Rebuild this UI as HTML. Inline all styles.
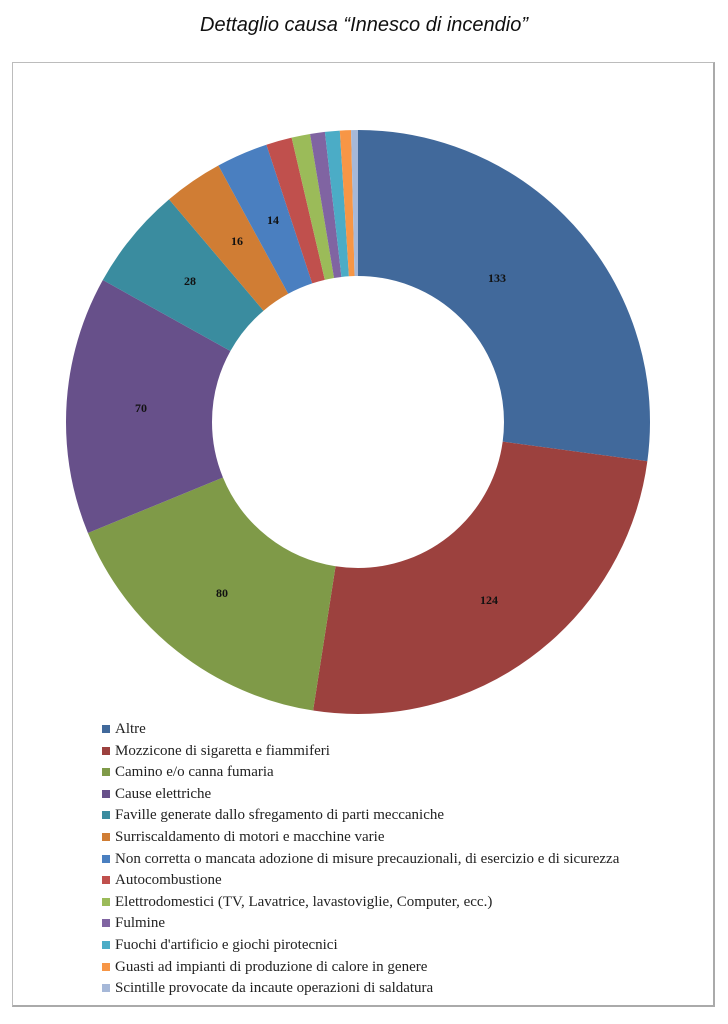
<!DOCTYPE html>
<html><head><meta charset="utf-8"><style>
body{margin:0;background:#fff;width:728px;height:1024px;position:relative;overflow:hidden;font-family:"Liberation Serif",serif}
.t{position:absolute;top:14px;left:0;width:728px;text-align:center;font-family:"Liberation Sans",sans-serif;font-style:italic;font-size:20px;color:#111}
.frame{position:absolute;left:12px;top:62px;width:700px;height:942px;border:1px solid #bcbcbc;border-bottom:2px solid #aaa;border-right:2px solid #aaa}
.lg{position:absolute;left:102px;top:720px;font-size:15px;color:#222}
.lg div{height:21.6px;line-height:18px;white-space:nowrap}
.lg span{display:inline-block;width:8px;height:8px;margin-right:5px;vertical-align:0px}
</style></head><body>
<div class="t">Dettaglio causa “Innesco di incendio”</div>
<div class="frame"></div>
<svg width="728" height="1024" style="position:absolute;left:0;top:0">
<g transform="rotate(-90 358 422)" fill="none" stroke-width="146">
<circle cx="358" cy="422" r="219" stroke="#41699b" stroke-dasharray="373.49 2000" stroke-dashoffset="0"/>
<circle cx="358" cy="422" r="219" stroke="#9c413e" stroke-dasharray="348.22 2000" stroke-dashoffset="-373.49"/>
<circle cx="358" cy="422" r="219" stroke="#7f9a48" stroke-dasharray="224.66 2000" stroke-dashoffset="-721.71"/>
<circle cx="358" cy="422" r="219" stroke="#67508a" stroke-dasharray="196.57 2000" stroke-dashoffset="-946.37"/>
<circle cx="358" cy="422" r="219" stroke="#3a8c9f" stroke-dasharray="78.63 2000" stroke-dashoffset="-1142.94"/>
<circle cx="358" cy="422" r="219" stroke="#d07d34" stroke-dasharray="44.93 2000" stroke-dashoffset="-1221.57"/>
<circle cx="358" cy="422" r="219" stroke="#4a7fc0" stroke-dasharray="39.31 2000" stroke-dashoffset="-1266.50"/>
<circle cx="358" cy="422" r="219" stroke="#c0504d" stroke-dasharray="19.66 2000" stroke-dashoffset="-1305.81"/>
<circle cx="358" cy="422" r="219" stroke="#9bbb59" stroke-dasharray="14.04 2000" stroke-dashoffset="-1325.47"/>
<circle cx="358" cy="422" r="219" stroke="#8064a2" stroke-dasharray="11.23 2000" stroke-dashoffset="-1339.51"/>
<circle cx="358" cy="422" r="219" stroke="#4bacc6" stroke-dasharray="11.23 2000" stroke-dashoffset="-1350.74"/>
<circle cx="358" cy="422" r="219" stroke="#f79646" stroke-dasharray="8.42 2000" stroke-dashoffset="-1361.97"/>
<circle cx="358" cy="422" r="219" stroke="#a6b8d8" stroke-dasharray="5.62 2000" stroke-dashoffset="-1370.39"/>
</g>
<g font-family="Liberation Serif,serif" font-weight="bold" font-size="12" fill="#111" text-anchor="middle">
<text x="497" y="282">133</text><text x="489" y="604">124</text><text x="222" y="597">80</text>
<text x="141" y="412">70</text><text x="190" y="285">28</text><text x="237" y="245">16</text><text x="273" y="224">14</text>
</g>
</svg>
<div class="lg">
<div><span style="background:#41699b"></span>Altre</div>
<div><span style="background:#9c413e"></span>Mozzicone di sigaretta e fiammiferi</div>
<div><span style="background:#7f9a48"></span>Camino e/o canna fumaria</div>
<div><span style="background:#67508a"></span>Cause elettriche</div>
<div><span style="background:#3a8c9f"></span>Faville generate dallo sfregamento di parti meccaniche</div>
<div><span style="background:#d07d34"></span>Surriscaldamento di motori e macchine varie</div>
<div><span style="background:#4a7fc0"></span>Non corretta o mancata adozione di misure precauzionali, di esercizio e di sicurezza</div>
<div><span style="background:#c0504d"></span>Autocombustione</div>
<div><span style="background:#9bbb59"></span>Elettrodomestici (TV, Lavatrice, lavastoviglie, Computer, ecc.)</div>
<div><span style="background:#8064a2"></span>Fulmine</div>
<div><span style="background:#4bacc6"></span>Fuochi d'artificio e giochi pirotecnici</div>
<div><span style="background:#f79646"></span>Guasti ad impianti di produzione di calore in genere</div>
<div><span style="background:#a6b8d8"></span>Scintille provocate da incaute operazioni di saldatura</div>
</div>
</body></html>
